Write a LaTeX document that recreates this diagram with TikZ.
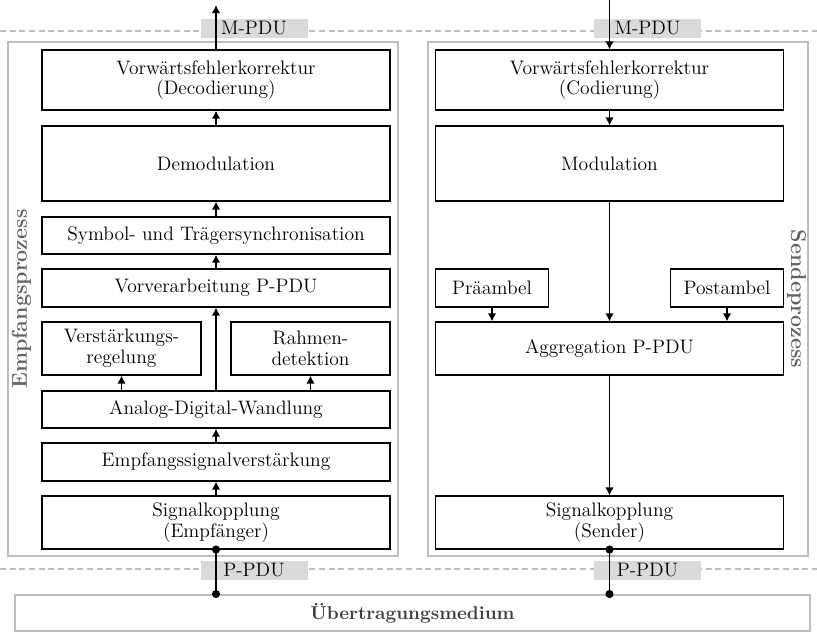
\documentclass[tikz,border=0pt]{standalone}
\usepackage{tikz}
\usepackage{xcolor}
\usetikzlibrary{arrows.meta}

\definecolor{framegray}{RGB}{190,190,190}
\definecolor{tagfill}{RGB}{218,218,218}
\definecolor{sidegray}{RGB}{100,100,100}

\begin{document}
\begin{tikzpicture}[
	font=\fontsize{11.1}{11.8}\selectfont,
	blk/.style={shape=rectangle, draw=black, line width=0.6pt, align=center, inner sep=1pt},
	mainblk/.style={blk, minimum width=6.96cm},
	sideblk/.style={blk, minimum width=3.18cm},
	ambblk/.style={blk, minimum width=2.26cm},
	pdutag/.style={shape=rectangle, fill=tagfill, minimum width=2.14cm, minimum height=0.38cm, inner sep=0pt},
	frame/.style={shape=rectangle, draw=framegray, line width=1.1pt},
	layersep/.style={draw=framegray, line width=0.6pt, dash pattern={on 3.5pt off 2pt}},
	flow/.style={line width=0.9pt, -{Latex[length=1.6mm, width=1.7mm]}},
	tap/.style={line width=0.9pt, {Circle[length=1.6mm]}-{Circle[length=1.6mm]}, shorten <=-0.8mm, shorten >=-0.8mm},
	sidelabel/.style={text=sidegray, font=\fontsize{12.2}{13}\selectfont\bfseries},
]

	\useasboundingbox (0,0) rectangle (16.34,-12.64);

	% Layers and frames:
	\coordinate (sepTL) at (0,-0.62);
	\coordinate (sepTR) at (16.34,-0.62);
	\coordinate (sepBL) at (0,-11.38);
	\coordinate (sepBR) at (16.34,-11.38);
	\draw[layersep] (sepTL) -- (sepTR);
	\draw[layersep] (sepBL) -- (sepBR);
	\node[frame, minimum width=7.80cm, minimum height=10.28cm](rxframe) at (4.06, -5.98){};
	\node[frame, minimum width=7.60cm, minimum height=10.28cm](txframe) at (12.36, -5.98){};
	\node[sidelabel, rotate=90](rxlabel) at (0.43, -5.98){Empfangsprozess};
	\node[sidelabel, rotate=-90](txlabel) at (15.93, -5.98){Sendeprozess};
	\node[frame, minimum width=15.90cm, minimum height=0.72cm, text=black!75, font=\fontsize{10.6}{12}\selectfont\bfseries](medium) at (8.25, -12.26){Übertragungsmedium};
	\node[pdutag](rxmpdu) at (5.08, -0.57){M-PDU};
	\node[pdutag](txmpdu) at (12.95, -0.57){M-PDU};
	\node[pdutag](rxppdu) at (5.08, -11.40){P-PDU};
	\node[pdutag](txppdu) at (12.95, -11.40){P-PDU};

	% Receiver blocks:
	\node[mainblk, minimum height=1.20cm](rxfec) at (4.32, -1.60){Vorwärtsfehlerkorrektur\\(Decodierung)};
	\node[mainblk, minimum height=1.50cm](demod) at (4.32, -3.27){Demodulation};
	\node[mainblk, minimum height=0.74cm](sync) at (4.32, -4.71){Symbol- und Trägersynchronisation};
	\node[mainblk, minimum height=0.76cm](prep) at (4.32, -5.76){Vorverarbeitung P-PDU};
	\node[sideblk, minimum height=1.06cm](agc) at (2.43, -6.97){Verstärkungs-\\regelung};
	\node[sideblk, minimum height=1.06cm](framedet) at (6.21, -6.97){Rahmen-\\detektion};
	\node[mainblk, minimum height=0.74cm](adc) at (4.32, -8.19){Analog-Digital-Wandlung};
	\node[mainblk, minimum height=0.76cm](rxamp) at (4.32, -9.24){Empfangssignalverstärkung};
	\node[mainblk, minimum height=1.06cm](rxcpl) at (4.32, -10.45){Signalkopplung\\(Empfänger)};

	% Transmitter blocks:
	\node[mainblk, minimum height=1.20cm](txfec) at (12.19, -1.60){Vorwärtsfehlerkorrektur\\(Codierung)};
	\node[mainblk, minimum height=1.50cm](mod) at (12.19, -3.27){Modulation};
	\node[ambblk, minimum height=0.76cm](preamble) at (9.84, -5.76){Präambel};
	\node[ambblk, minimum height=0.76cm](postamble) at (14.54, -5.76){Postambel};
	\node[mainblk, minimum height=1.06cm](agg) at (12.19, -6.97){Aggregation P-PDU};
	\node[mainblk, minimum height=1.06cm](txcpl) at (12.19, -10.45){Signalkopplung\\(Sender)};

	% Connections:
	\coordinate (rxout) at (4.32, -0.10);
	\coordinate (txin) at (12.19, 0);
	\draw[flow] (rxfec.north) -- (rxout);
	\draw[flow] (demod.north) -- (rxfec.south);
	\draw[flow] (sync.north) -- (demod.south);
	\draw[flow] (prep.north) -- (sync.south);
	\draw[flow] (adc.north) -- (prep.south);
	\draw[flow] (agc.south |- adc.north) -- (agc.south);
	\draw[flow] (framedet.south |- adc.north) -- (framedet.south);
	\draw[flow] (rxamp.north) -- (adc.south);
	\draw[flow] (rxcpl.north) -- (rxamp.south);
	\draw[flow] (txin) -- (txfec.north);
	\draw[flow] (txfec.south) -- (mod.north);
	\draw[flow] (mod.south) -- (agg.north);
	\draw[flow] (preamble.south) -- (preamble.south |- agg.north);
	\draw[flow] (postamble.south) -- (postamble.south |- agg.north);
	\draw[flow] (agg.south) -- (txcpl.north);
	\draw[tap] (rxcpl.south) -- (rxcpl.south |- medium.north);
	\draw[tap] (txcpl.south) -- (txcpl.south |- medium.north);

\end{tikzpicture}
\end{document}
